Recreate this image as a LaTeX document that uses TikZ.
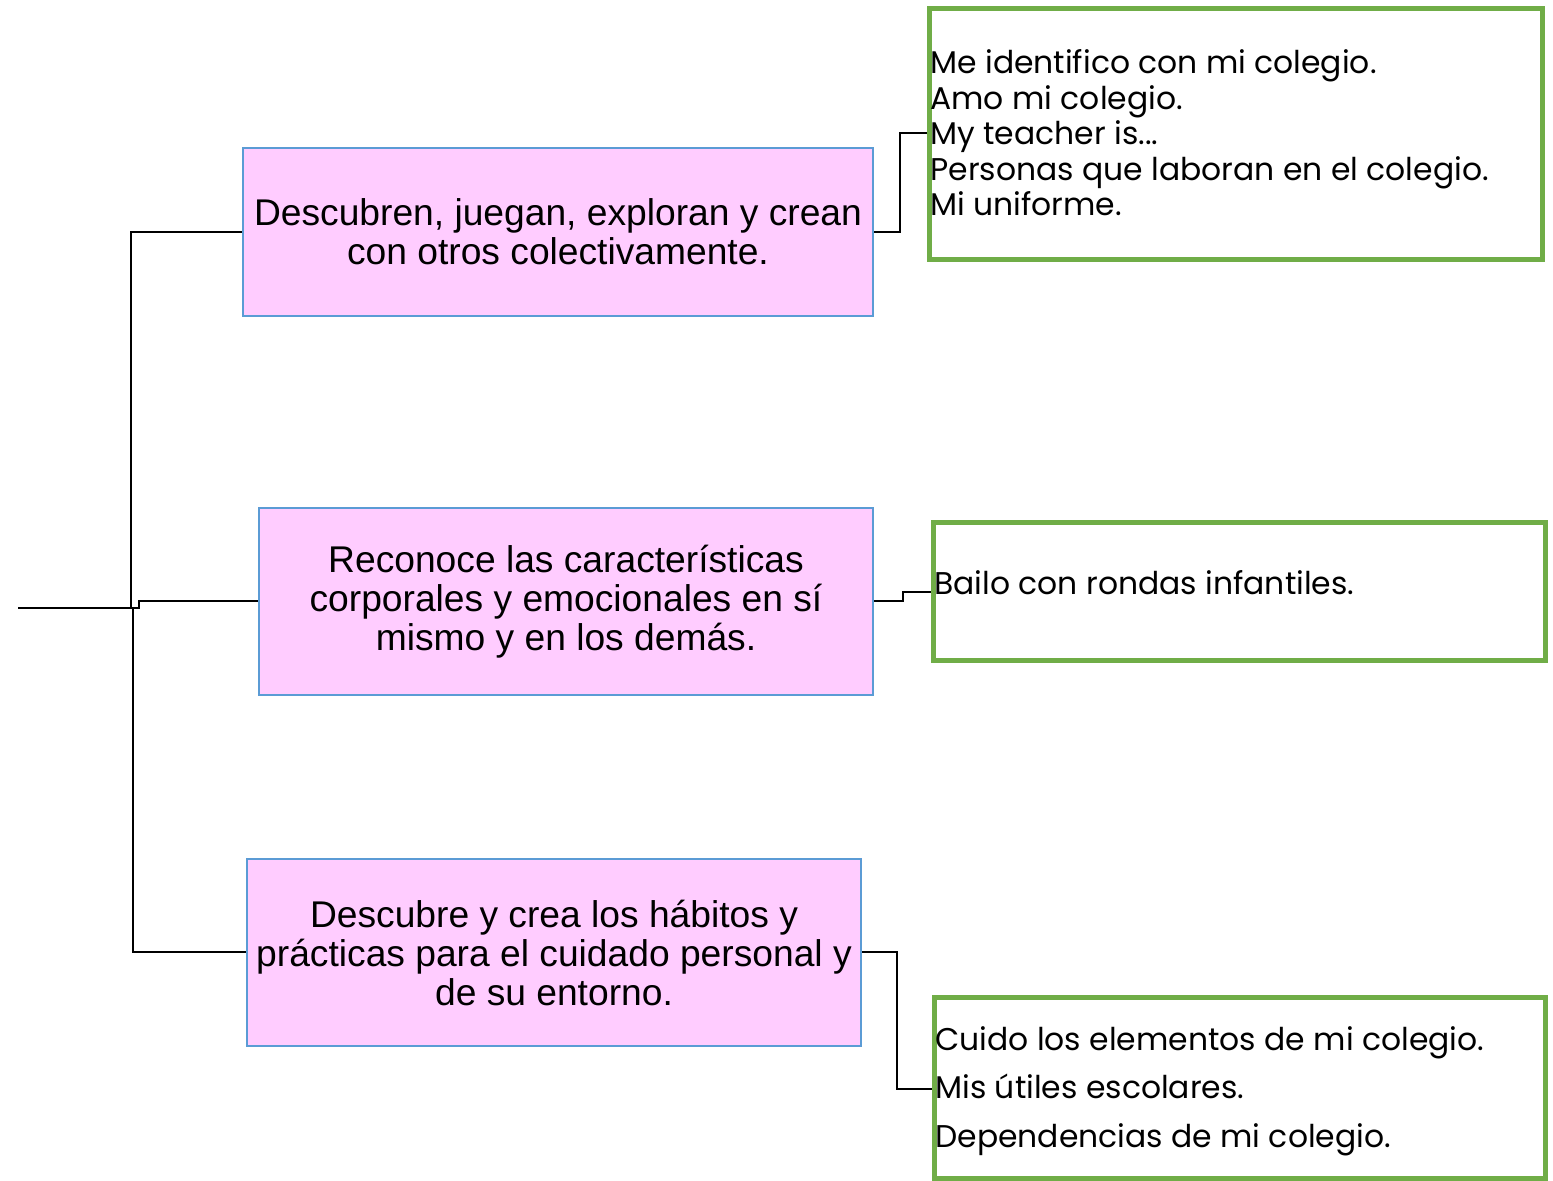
\documentclass[tikz,border=0pt]{standalone}
\usepackage{fontspec}
\setmainfont{Liberation Sans}
\newfontfamily\gothic{Poppins}
\definecolor{pinkfill}{HTML}{FFCCFF}
\definecolor{blueline}{HTML}{5B9BD5}
\definecolor{greenline}{HTML}{70AD47}
\begin{document}
\begin{tikzpicture}[x=0.5pt,y=-0.5pt,
  pinkbox/.style={draw=blueline,line width=1pt,fill=pinkfill,inner sep=2pt,align=center,
    font=\fontsize{18.6pt}{19.5pt}\selectfont},
  greenbox/.style={draw=greenline,line width=2.5pt,inner sep=0pt},
  gtext/.style={inner sep=0pt,anchor=west,align=left},
  link/.style={draw=black,line width=1.25pt}]
\useasboundingbox (0,0) rectangle (1553,1181);
\node[pinkbox,minimum width=315pt,minimum height=84pt] (p1) at (558,232)
  {Descubren, juegan, exploran y crean\\con otros colectivamente.};
\node[pinkbox,minimum width=307pt,minimum height=93.5pt] (p2) at (566,601.5)
  {Reconoce las características\\corporales y emocionales en sí\\mismo y en los demás.};
\node[pinkbox,minimum width=307pt,minimum height=93.5pt] (p3) at (554,952.5)
  {Descubre y crea los hábitos y\\prácticas para el cuidado personal y\\de su entorno.};
\node[greenbox,minimum width=306.5pt,minimum height=125.5pt] (g1) at (1235.5,134.5) {};
\node[greenbox,minimum width=306pt,minimum height=69pt] (g2) at (1239,592) {};
\node[greenbox,minimum width=305.5pt,minimum height=90.5pt] (g3) at (1239.5,1087.5) {};
\node[gtext,font=\gothic\fontsize{15.7pt}{17.75pt}\selectfont] (t1) at (930,133)
  {Me identifico con mi colegio.\\Amo mi colegio.\\My teacher is...\\Personas que laboran en el colegio.\\Mi uniforme.};
\node[gtext,font=\gothic\fontsize{15.7pt}{17.75pt}\selectfont] (t2) at (934,583)
  {Bailo con rondas infantiles.};
\node[gtext,font=\gothic\fontsize{15.7pt}{24.25pt}\selectfont] (t3) at (935,1091)
  {Cuido los elementos de mi colegio.\\Mis útiles escolares.\\Dependencias de mi colegio.};
\coordinate (root) at (18,608);
\draw[link] (root) -- (131,608) -- (131,232) -- (p1.west);
\draw[link] (root) -- (139,608) -- (139,601) -- (p2.west |- 0,601);
\draw[link] (root) -- (133,608) -- (133,952) -- (p3.west |- 0,952);
\draw[link] (p1.east) -- (900,232) -- (900,133) -- (g1.west |- 0,133);
\draw[link] (p2.east |- 0,601) -- (903,601) -- (903,592) -- (g2.west);
\draw[link] (p3.east |- 0,952) -- (897,952) -- (897,1089) -- (g3.west |- 0,1089);
\end{tikzpicture}
\end{document}
